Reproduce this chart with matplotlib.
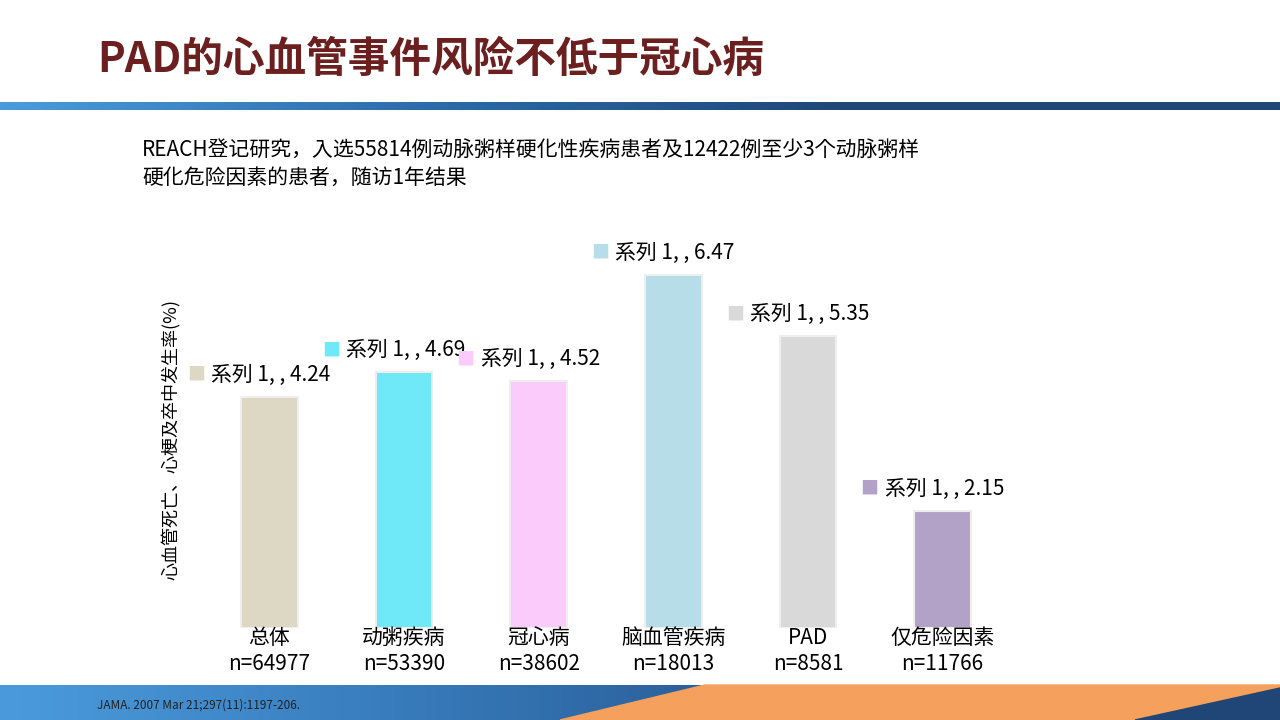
import matplotlib
matplotlib.use("Agg")
import matplotlib.pyplot as plt
import numpy as np
from matplotlib import font_manager
from matplotlib.colors import LinearSegmentedColormap
from matplotlib.patches import Polygon

# find an installed CJK font by file, register its real name
cjk_name = None
for path in font_manager.findSystemFonts():
    if "CJK" in path and "Regular" in path:
        try:
            font_manager.fontManager.addfont(path)
            cjk_name = font_manager.FontProperties(fname=path).get_name()
            break
        except Exception:
            pass
plt.rcParams["font.family"] = [cjk_name or "Noto Sans CJK SC", "DejaVu Sans"]

categories = ["总体", "动粥疾病", "冠心病", "脑血管疾病", "PAD", "仅危险因素"]
counts = ["n=64977", "n=53390", "n=38602", "n=18013", "n=8581", "n=11766"]
values = [4.24, 4.69, 4.52, 6.47, 5.35, 2.15]
colors = ["#DDD8C4", "#6FE9F7", "#FACBFB", "#B6DDE8", "#D9D9D9", "#B3A2C7"]

W, H = 1280, 720
fig = plt.figure(figsize=(12.8, 7.2), dpi=100)

# background decorations in pixel space
bg = fig.add_axes([0, 0, 1, 1])
bg.axis("off")
grad = np.linspace(0, 1, 256)[None, :]
cmap = LinearSegmentedColormap.from_list("b", ["#4B9BDC", "#2E6BA8", "#1F4676", "#1F4676"])
bg.imshow(grad, extent=(0, W, 110, 102), cmap=cmap, aspect="auto")
cmap2 = LinearSegmentedColormap.from_list("b2", ["#4B9BDC", "#3A7FC0", "#2A5F9A"])
bg.imshow(grad, extent=(0, 720, 720, 685), cmap=cmap2, aspect="auto")
bg.add_patch(Polygon([(560, 720), (705, 685), (1280, 685), (1280, 720)], color="#F5A05C"))
bg.add_patch(Polygon([(1135, 720), (1280, 688), (1280, 720)], color="#1F4676"))
bg.set_xlim(0, W)
bg.set_ylim(H, 0)

bg.text(97, 60, "PAD的心血管事件风险不低于冠心病", fontsize=30, fontweight="bold",
        color="#6B1F1F", va="center", ha="left")
bg.text(142, 164, "REACH登记研究，入选55814例动脉粥样硬化性疾病患者及12422例至少3个动脉粥样\n硬化危险因素的患者，随访1年结果",
        fontsize=15, va="center", ha="left", linespacing=1.35)
bg.text(97, 705, "JAMA. 2007 Mar 21;297(11):1197-206.", fontsize=8.5, color="#222222",
        va="center", ha="left")
bg.text(172, 440, "心血管死亡、心梗及卒中发生率(%)", fontsize=13, rotation=90,
        va="center", ha="center")

# chart axes: x 202..1010 px, y 628 (0) .. 275 (6.47)
ppu = (628 - 275) / 6.47
ax = fig.add_axes([202 / W, (720 - 628) / H, (1010 - 202) / W, 400 / H])
ax.set_ylim(0, 400 / ppu)
x = np.arange(len(values))
ax.set_xlim(-0.5, len(values) - 0.5)
ax.bar(x, values, width=0.42, color=colors, edgecolor="#EEEEEE", linewidth=1.5)
for s in ax.spines.values():
    s.set_visible(False)
ax.set_yticks([])
ax.set_xticks(x)
ax.set_xticklabels([f"{c}\n{n}" for c, n in zip(categories, counts)], fontsize=15,
                   linespacing=1.25)
ax.tick_params(axis="x", length=0, pad=-1)

for xi, v, c in zip(x, values, colors):
    ax.annotate("■", (xi, v), xytext=(-73 * 0.72, 22 * 0.72), textcoords="offset points",
                color=c, fontsize=13, va="center", ha="center")
    ax.annotate(f"系列 1, , {v:.2f}", (xi, v), xytext=(-58 * 0.72, 22 * 0.72),
                textcoords="offset points", fontsize=15, va="center", ha="left")

fig.savefig("out.png", dpi=100)
